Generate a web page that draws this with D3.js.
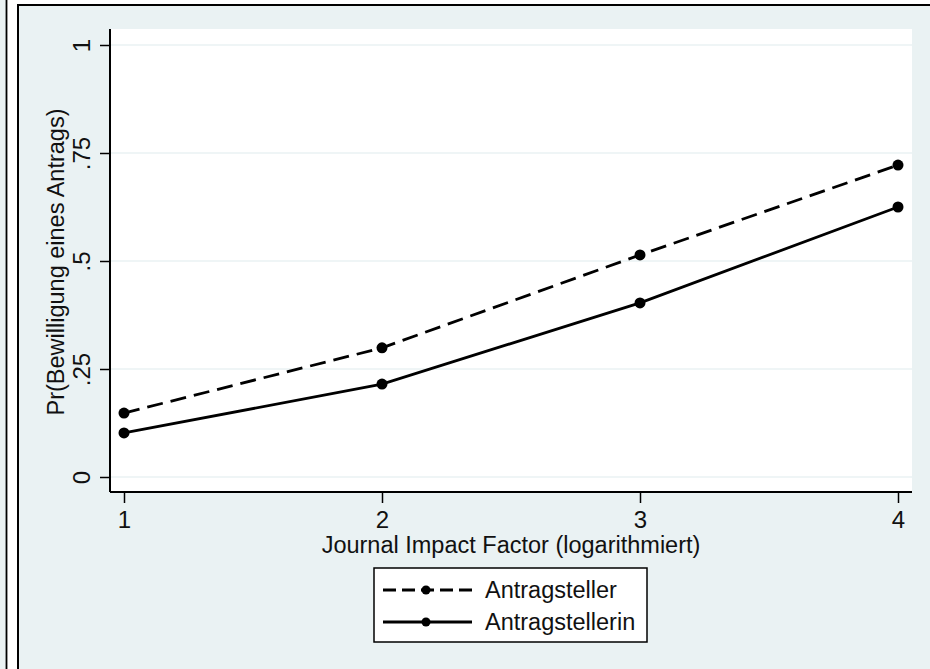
<!DOCTYPE html>
<html>
<head>
<meta charset="utf-8">
<script src="https://cdn.jsdelivr.net/npm/d3@7"></script>
<style>
  body { margin: 0; background: #fff; }
  text { font-family: "Liberation Sans", Arial, sans-serif; fill: #111; }
</style>
</head>
<body>
<div class="canvas"></div>
<script>
const impact = [1, 2, 3, 4]
const antragsteller = [0.148, 0.299, 0.514, 0.722]
const antragstellerin = [0.102, 0.215, 0.403, 0.625]
const yTicks = [0, 0.25, 0.5, 0.75, 1]
const yTickLabels = ['0', '.25', '.5', '.75', '1']
const seriesNames = ['Antragsteller', 'Antragstellerin']

const W = 930, H = 669
const bg = '#eaf2f3'
const plot = {left: 110, right: 912, top: 29, bottom: 492}

const svg = d3.select('.canvas').append('svg')
    .attr('width', W).attr('height', H)

// outer frame pieces
svg.append('rect').attr('x', 0).attr('y', 0).attr('width', W).attr('height', H).attr('fill', '#fff')
svg.append('rect').attr('x', 0).attr('y', 0).attr('width', 6).attr('height', H).attr('fill', bg)
svg.append('rect').attr('x', 18).attr('y', 5).attr('width', W - 18).attr('height', H - 5).attr('fill', bg)
svg.append('line').attr('x1', 6.5).attr('x2', 6.5).attr('y1', 0).attr('y2', H)
    .attr('stroke', '#000').attr('stroke-width', 1.8)
svg.append('line').attr('x1', 18).attr('x2', 18).attr('y1', 5).attr('y2', H)
    .attr('stroke', '#000').attr('stroke-width', 2)
svg.append('line').attr('x1', 17).attr('x2', W).attr('y1', 5).attr('y2', 5)
    .attr('stroke', '#000').attr('stroke-width', 2)

svg.append('rect')
    .attr('x', plot.left).attr('y', plot.top)
    .attr('width', plot.right - plot.left).attr('height', plot.bottom - plot.top)
    .attr('fill', '#fff')

const x = d3.scaleLinear().domain([1, 4]).range([124, 898])
const y = d3.scaleLinear().domain([0, 1]).range([477, 45])

// gridlines
svg.append('g').selectAll('line')
    .data(yTicks)
    .enter().append('line')
        .attr('x1', plot.left).attr('x2', plot.right)
        .attr('y1', d => y(d)).attr('y2', d => y(d))
        .attr('stroke', bg).attr('stroke-width', 1.5)

// y axis
const yAxis = svg.append('g')
    .attr('transform', `translate(${plot.left},0)`)
    .call(d3.axisLeft(y).tickValues(yTicks).tickFormat((d, i) => yTickLabels[i]).tickSize(10).tickSizeOuter(0))
yAxis.select('.domain').remove()
yAxis.append('line').attr('x1', 0).attr('x2', 0).attr('y1', plot.top).attr('y2', plot.bottom)
    .attr('stroke', '#000').attr('stroke-width', 2)
yAxis.selectAll('.tick line').attr('stroke', '#000').attr('stroke-width', 1.5)
yAxis.selectAll('.tick text')
    .attr('x', null).attr('dy', null)
    .attr('transform', 'translate(-20,0) rotate(-90)')
    .attr('text-anchor', 'middle')
    .style('font-size', '24px')
    .style('font-family', '"Liberation Sans", Arial, sans-serif')
    .attr('fill', '#111')

// x axis
const xAxis = svg.append('g')
    .attr('transform', `translate(0,${plot.bottom})`)
    .call(d3.axisBottom(x).tickValues(impact).tickFormat(d3.format('d')).tickSize(11).tickSizeOuter(0))
xAxis.select('.domain').remove()
xAxis.append('line').attr('x1', plot.left).attr('x2', plot.right).attr('y1', 0).attr('y2', 0)
    .attr('stroke', '#000').attr('stroke-width', 2)
xAxis.selectAll('.tick line').attr('stroke', '#000').attr('stroke-width', 1.5)
xAxis.selectAll('.tick text')
    .attr('y', 36).attr('dy', null)
    .style('font-size', '24px')
    .style('font-family', '"Liberation Sans", Arial, sans-serif')
    .attr('fill', '#111')

// titles
svg.append('text')
    .attr('transform', `translate(64,262) rotate(-90)`)
    .attr('text-anchor', 'middle')
    .style('font-size', '23.5px')
    .text('Pr(Bewilligung eines Antrags)')
svg.append('text')
    .attr('x', 511).attr('y', 553)
    .attr('text-anchor', 'middle')
    .style('font-size', '23.5px')
    .text('Journal Impact Factor (logarithmiert)')

// lines
const line = d3.line().x((d, i) => x(impact[i])).y(d => y(d))
const series = [
    {name: seriesNames[0], values: antragsteller, dash: '16,8'},
    {name: seriesNames[1], values: antragstellerin, dash: null}
]
series.forEach(s => {
    svg.append('path')
        .datum(s.values)
        .attr('d', line)
        .attr('fill', 'none')
        .attr('stroke', '#000')
        .attr('stroke-width', 2.8)
        .attr('stroke-dasharray', s.dash)
    svg.append('g').selectAll('circle')
        .data(s.values)
        .enter().append('circle')
            .attr('cx', (d, i) => x(impact[i]))
            .attr('cy', d => y(d))
            .attr('r', 5.5)
            .attr('fill', '#000')
})

// legend
const legend = svg.append('g')
legend.append('rect')
    .attr('x', 374).attr('y', 568).attr('width', 273).attr('height', 74)
    .attr('fill', '#fff').attr('stroke', '#000').attr('stroke-width', 1.5)
series.forEach((s, i) => {
    const ly = 590 + i * 32
    legend.append('line')
        .attr('x1', 383).attr('x2', 472).attr('y1', ly).attr('y2', ly)
        .attr('stroke', '#000').attr('stroke-width', 2.8)
        .attr('stroke-dasharray', s.dash ? '13,6' : null)
    legend.append('circle').attr('cx', 426).attr('cy', ly).attr('r', 4.5).attr('fill', '#000')
    legend.append('text')
        .attr('x', 485).attr('y', ly + 8)
        .style('font-size', '23.5px')
        .text(s.name)
})
</script>
</body>
</html>
